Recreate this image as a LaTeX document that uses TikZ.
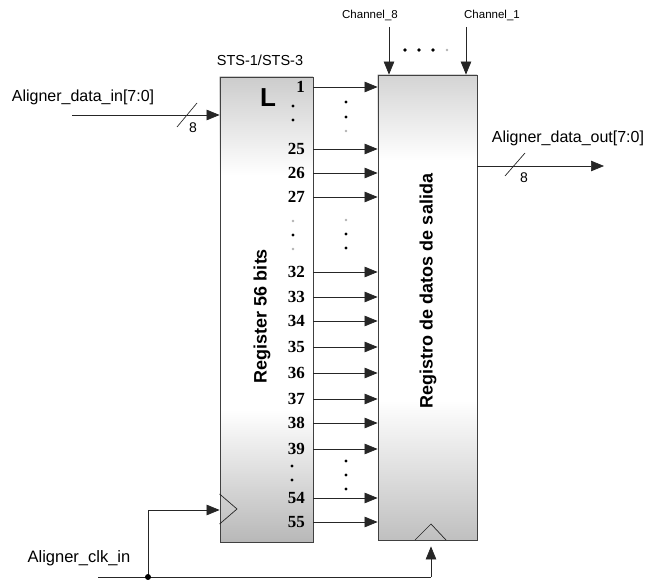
\documentclass[tikz,border=0pt]{standalone}
\usepackage{fontspec}
\setmainfont{Liberation Sans}
\newfontfamily\numfont{Liberation Serif}
\usetikzlibrary{arrows.meta,backgrounds}
\begin{document}
\begin{tikzpicture}[x=1pt,y=-1pt,
  wire/.style={line width=0.7pt,draw=black!85},
  arr/.style={wire,-{Triangle[length=13pt,width=10.5pt]}},
  regbox/.style={draw=black!75,line width=0.8pt,inner sep=0pt},
  num/.style={font=\numfont\bfseries\fontsize{17}{17}\selectfont,anchor=east,inner sep=0pt},
  lbl/.style={font=\fontsize{16}{16}\selectfont,inner sep=0pt},
  chl/.style={font=\fontsize{11.5}{12}\selectfont,inner sep=0pt},
  rot/.style={font=\bfseries\fontsize{18}{18}\selectfont,rotate=90,inner sep=0pt},
  dk/.style={fill=black},
  pl/.style={fill=black!30}]
\useasboundingbox (0,0) rectangle (649,580);
% boxes
\node[regbox,minimum width=93pt,minimum height=465pt] (reg) at (266.5,309.5) {};
\node[regbox,minimum width=99pt,minimum height=465pt] (out) at (427.5,307.5) {};
\begin{scope}[on background layer]
  \fill[white] (reg.north west) rectangle (reg.south east);
  \shade[top color=black!20,bottom color=white] (reg.north west) rectangle (313,175);
  \shade[top color=white,bottom color=black!28] (220,410) rectangle (reg.south east);
  \fill[white] (out.north west) rectangle (out.south east);
  \shade[top color=black!17,bottom color=white] (out.north west) rectangle (477,160);
  \shade[top color=white,bottom color=black!25] (378,400) rectangle (out.south east);
\end{scope}
% labels in boxes
\node[font=\bfseries\fontsize{26}{26}\selectfont,inner sep=0pt] (L) at (268,98) {L};
\node[rot] (rlab) at (262,316) {Register 56 bits};
\node[rot] (olab) at (428,291) {Registro de datos de salida};
\node[font=\fontsize{14.5}{15}\selectfont,inner sep=0pt] (sts) at (260,60) {STS-1/STS-3};
% bit lines
\foreach \n/\y in {1/87,25/149,26/173,27/197,32/272,33/297,34/321,35/347,36/373,37/399,38/423,39/449,54/498,55/522}{
  \node[num] (b\n) at (305,\y) {\n};
  \draw[arr] (reg.east |- b\n) -- (out.west |- b\n);
}
% dots
\fill[dk] (293,106) circle (1.6pt); \fill[dk] (293,120) circle (1.6pt);
\fill[pl] (293,221) circle (1.4pt); \fill[dk] (293,235) circle (1.6pt); \fill[pl] (293,249) circle (1.4pt);
\fill[dk] (292,466) circle (1.6pt); \fill[dk] (292,480) circle (1.6pt);
\fill[dk] (346,102) circle (1.6pt); \fill[dk] (346,117) circle (1.6pt); \fill[pl] (346,131) circle (1.4pt);
\fill[pl] (346,220) circle (1.4pt); \fill[dk] (346,234) circle (1.6pt); \fill[dk] (346,248) circle (1.6pt);
\fill[dk] (346,461) circle (1.6pt); \fill[dk] (346,475) circle (1.6pt); \fill[dk] (346,489) circle (1.6pt);
\fill[dk] (405,50) circle (1.8pt); \fill[dk] (419,50) circle (1.8pt); \fill[dk] (433,50) circle (1.8pt); \fill[pl] (447,50) circle (1.4pt);
% channels
\node[chl] (ch8) at (370,15) {Channel\_8};
\node[chl] (ch1) at (492,15) {Channel\_1};
\coordinate (c8) at (389,27);
\coordinate (c1) at (466,27);
\draw[arr] (c8) -- (c8 |- out.north);
\draw[arr] (c1) -- (c1 |- out.north);
% input
\node[lbl] (din) at (83,97) {Aligner\_data\_in[7:0]};
\coordinate (dinS) at (72,115);
\draw[arr] (dinS) -- (dinS -| reg.west);
\draw[wire] (177,127) -- (197,103);
\node[font=\fontsize{14}{14}\selectfont,inner sep=0pt] (w1) at (193,128) {8};
% output
\node[lbl] (dout) at (568,138) {Aligner\_data\_out[7:0]};
\coordinate (doutE) at (604,166);
\draw[arr] (out.east |- doutE) -- (doutE);
\draw[wire] (505,176) -- (525,153);
\node[font=\fontsize{14}{14}\selectfont,inner sep=0pt] (w2) at (524,178) {8};
% clock
\node[lbl,font=\fontsize{16.5}{17}\selectfont] (clk) at (79,558) {Aligner\_clk\_in};
\coordinate (clkS) at (98,577);
\coordinate (jn) at (148,577);
\coordinate (oc) at (431,577);
\coordinate (rc) at (148,510);
\draw[wire] (clkS) -- (oc);
\draw[arr,shorten >=6pt] (oc) -- (oc |- out.south);
\draw[arr] (jn) -- (rc) -- (rc -| reg.west);
\fill (jn) circle (3pt);
\draw[wire] (reg.west |- 0,494) -- (237,509) -- (reg.west |- 0,524);
\draw[wire] (415,540) -- (431,524) -- (446,540);
\end{tikzpicture}
\end{document}
